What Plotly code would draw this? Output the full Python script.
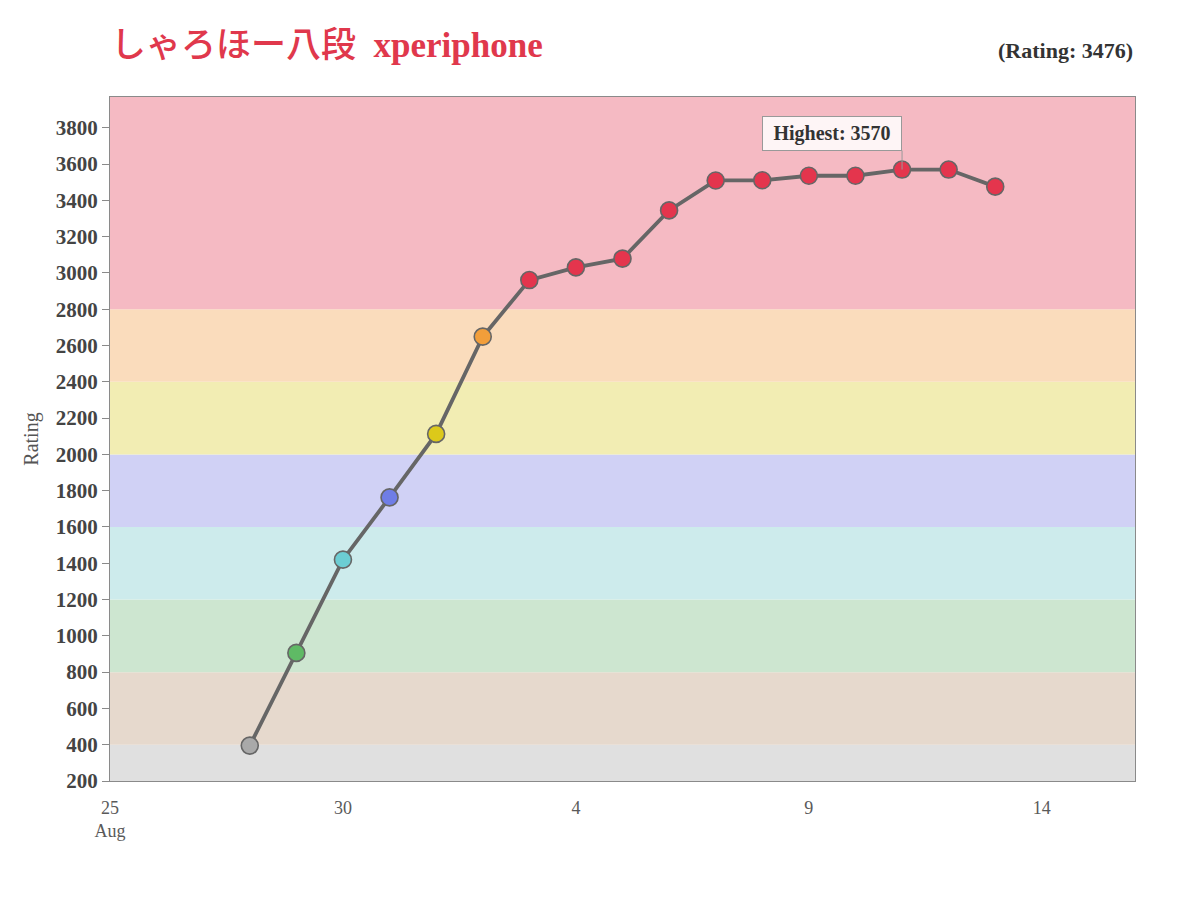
import plotly.graph_objects as go

# ---- data ----
dates = ["2019-08-28", "2019-08-29", "2019-08-30", "2019-08-31", "2019-09-01",
         "2019-09-02", "2019-09-03", "2019-09-04", "2019-09-05", "2019-09-06",
         "2019-09-07", "2019-09-08", "2019-09-09", "2019-09-10", "2019-09-11",
         "2019-09-12", "2019-09-13"]
ratings = [395, 906, 1420, 1763, 2113, 2649, 2961, 3031, 3079, 3345,
           3510, 3511, 3536, 3536, 3570, 3570, 3476]
band_edges = [200, 400, 800, 1200, 1600, 2000, 2400, 2800, 3970]
band_fill = ["#E0E0E0", "#E6D9CD", "#CDE6D0", "#CDEBEC", "#D0D1F5",
             "#F2EDB3", "#FADCBC", "#F5BAC3"]
band_marker = ["#A9A9A9", "#B08C56", "#5FBA65", "#6CCDD3", "#6F7DE6",
               "#DCC91A", "#F29E3A", "#E4354D"]
tick_vals = ["2019-08-25", "2019-08-30", "2019-09-04", "2019-09-09", "2019-09-14"]
tick_text = ["25<br>Aug", "30", "4", "9", "14"]
y_ticks = list(range(200, 3801, 200))
user_name = "xperiphone"
user_rank = "しゃろほー八段"
current_rating = 3476
highest_rating = 3570


def color_for(r):
    for i in range(len(band_edges) - 1):
        if r < band_edges[i + 1]:
            return band_marker[i]
    return band_marker[-1]


marker_colors = [color_for(r) for r in ratings]

FONT = "Liberation Serif, Times New Roman, Noto Sans CJK JP, serif"

fig = go.Figure()
fig.add_trace(go.Scatter(
    x=dates, y=ratings, mode="lines+markers",
    line=dict(color="#666666", width=3.8),
    marker=dict(size=17, color=marker_colors, line=dict(color="#666666", width=1.6)),
    hoverinfo="x+y", showlegend=False,
))

shapes = []
for i in range(len(band_fill)):
    shapes.append(dict(type="rect", xref="paper", yref="y", x0=0, x1=1,
                       y0=band_edges[i], y1=band_edges[i + 1],
                       fillcolor=band_fill[i], line=dict(width=0), layer="below"))

hi_idx = ratings.index(highest_rating)

fig.update_layout(
    width=1200, height=900,
    paper_bgcolor="white", plot_bgcolor="white",
    margin=dict(l=102, r=73, t=89, b=127),
    font=dict(family=FONT),
    shapes=shapes,
    xaxis=dict(type="date", range=["2019-08-25", "2019-09-16"],
               tickvals=tick_vals, ticktext=tick_text,
               tickfont=dict(size=18, color="#5a5a5a", family=FONT),
               ticklabelstandoff=10,
               showgrid=False, zeroline=False,
               showline=True, mirror=True, linecolor="#8a8a8a", linewidth=1,
               ticks=""),
    yaxis=dict(range=[200, 3970], tickvals=y_ticks,
               tickfont=dict(size=21, color="#444444", family=FONT, weight="bold"),
               showgrid=False, zeroline=False,
               showline=True, mirror=True, linecolor="#8a8a8a", linewidth=1,
               ticks="outside", ticklen=7, tickcolor="#8a8a8a",
               title=dict(text="Rating", font=dict(size=20, color="#555555", family=FONT),
                          standoff=11)),
    annotations=[
        dict(xref="paper", yref="paper", x=0.0, y=1.0, xshift=-1, yshift=52,
             xanchor="left", yanchor="middle", showarrow=False,
             text=user_rank + "  <b>" + user_name + "</b>",
             font=dict(size=35, color="#E0384C", family=FONT, weight=500)),
        dict(xref="paper", yref="paper", x=1.0, y=1.0, yshift=47,
             xanchor="right", yanchor="middle", showarrow=False,
             text="<b>(Rating: %d)</b>" % current_rating,
             font=dict(size=22, color="#333333", family=FONT)),
        dict(x=dates[hi_idx], y=highest_rating, xref="x", yref="y",
             text="<b>Highest: %d</b>" % highest_rating,
             showarrow=True, arrowhead=0, arrowwidth=1, arrowcolor="#999999",
             ax=0, ay=-19, xanchor="right", yanchor="bottom",
             width=130, height=25,
             bgcolor="rgba(255,255,255,0.85)", bordercolor="#999999", borderwidth=1,
             borderpad=4,
             font=dict(size=20, color="#333333", family=FONT)),
    ],
)

fig.write_html("out.html")
